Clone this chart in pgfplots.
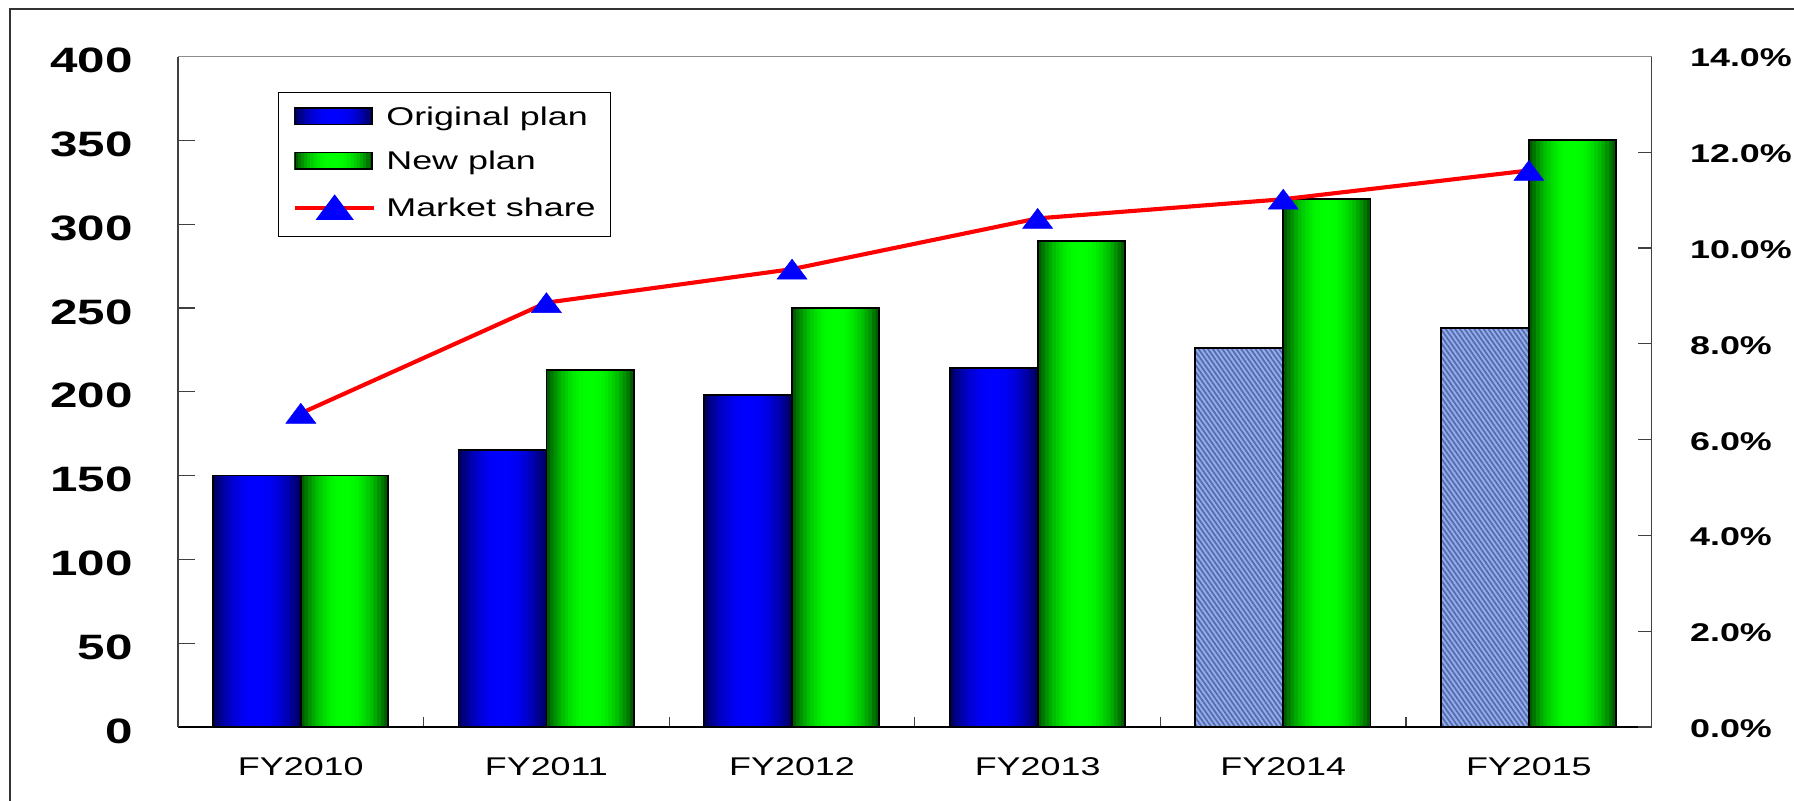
\documentclass[border=0pt]{standalone}
\usepackage{fontspec}
\setmainfont{Liberation Sans}
\usepackage{pgfplots}
\usepackage{pgfplotstable}
\pgfplotsset{compat=1.18}
\usetikzlibrary{patterns.meta}
\newfontfamily\regfont[FakeStretch=1.4]{Liberation Sans}
\newfontfamily\boldfont[FakeStretch=1.4]{Liberation Sans}
\definecolor{navyD}{RGB}{0,0,100}
\definecolor{blueM}{RGB}{0,0,255}
\definecolor{greenD}{RGB}{0,92,0}
\definecolor{greenM}{RGB}{0,255,0}
\definecolor{hatchbg}{RGB}{140,175,238}
\definecolor{hatchfg}{RGB}{92,104,170}
\definecolor{axgray}{RGB}{64,64,64}

\pgfplotstableread{
x v
0 150
1 165
2 198
3 214
}\origtab
\pgfplotstableread{
x v
4 226
5 238
}\hatchtab
\pgfplotstableread{
x v
0 150
1 213
2 250
3 290
4 315
5 350
}\newtab
\pgfplotstableread{
x v
0 6.55
1 8.86
2 9.56
3 10.62
4 11.02
5 11.62
}\sharetab

% one layer of a horizontally graded bar: width, percent of bright colour, shift, dark, bright, table
\newcommand\barlayer[6]{%
  \addplot[ybar, bar width=#1, bar shift=#3, draw=none, fill=#5!#2!#4, forget plot]
    table[x=x,y=v] {#6};}
\newcommand\gradbars[5]{% full width, shift, dark, bright, table
  \barlayer{#1*12/12}{0}{#2}{#3}{#4}{#5}
  \barlayer{#1*11/12}{17}{#2}{#3}{#4}{#5}
  \barlayer{#1*10/12}{33}{#2}{#3}{#4}{#5}
  \barlayer{#1*9/12}{47}{#2}{#3}{#4}{#5}
  \barlayer{#1*8/12}{60}{#2}{#3}{#4}{#5}
  \barlayer{#1*7/12}{70}{#2}{#3}{#4}{#5}
  \barlayer{#1*6/12}{79}{#2}{#3}{#4}{#5}
  \barlayer{#1*5/12}{87}{#2}{#3}{#4}{#5}
  \barlayer{#1*4/12}{93}{#2}{#3}{#4}{#5}
  \barlayer{#1*3/12}{97}{#2}{#3}{#4}{#5}
  \barlayer{#1*2/12}{99}{#2}{#3}{#4}{#5}
  \barlayer{#1*1/12}{100}{#2}{#3}{#4}{#5}}
\newcommand\gradswatch[2]{%
  \foreach \k/\p in {0/0,1/17,2/33,3/47,4/60,5/70,6/79,7/87,8/93,9/97,10/99,11/100}{
    \fill[#2!\p!#1] ({16.75pt-16.75pt*(12-\k)/12},-2.55pt) rectangle ({16.75pt+16.75pt*(12-\k)/12},4.65pt);}
  \draw[black, line width=0.7pt] (0pt,-2.55pt) rectangle (33.5pt,4.65pt);}

\begin{document}
\begin{tikzpicture}
\useasboundingbox (-77.8pt,-32.3pt) rectangle (706.2pt,317.7pt);
\draw[line width=0.85pt, black!80] (-73.4pt,-60pt) -- (-73.4pt,313.8pt) -- (740pt,313.8pt);
\begin{axis}[
  at={(0pt,0pt)}, anchor=south west,
  scale only axis, width=644pt, height=293pt,
  xmin=-0.5, xmax=5.5, ymin=0, ymax=400,
  enlargelimits=false,
  axis x line*=bottom, axis y line*=left,
  x axis line style={black, line width=0.7pt, -},
  y axis line style={axgray, line width=0.7pt, -},
  tick align=inside,
  xtick={0,...,5},
  xticklabels={FY2010,FY2011,FY2012,FY2013,FY2014,FY2015},
  major x tick style={draw=none},
  minor xtick={0.5,1.5,2.5,3.5,4.5},
  minor tick length=4.2pt,
  minor x tick style={axgray, line width=0.5pt},
  ytick={0,50,...,400},
  yticklabels={0,50,100,150,200,250,300,350,400},
  major tick length=7.3pt,
  y tick style={axgray, line width=0.5pt},
  xticklabel style={font=\regfont\fontsize{11.2}{13}\selectfont, anchor=north, inner sep=0pt, yshift=-13.1pt},
  yticklabel style={font=\boldfont\bfseries\fontsize{15.4}{18}\selectfont, anchor=east, inner sep=0pt, xshift=-19.7pt, yshift=-1.75pt},
  legend cell align=left,
  legend style={at={(axis description cs:0.0677,0.9468)}, anchor=north west,
    draw=black, line width=0.5pt, fill=white,
    inner xsep=6.5pt, inner ysep=6pt, row sep=8.9pt, column sep=4.4pt,
    font=\regfont\fontsize{11.2}{13}\selectfont,
    nodes={inner sep=0pt, text height=8.2pt, text depth=2.4pt}},
]
% Original plan, graded bars
\gradbars{0.358}{-0.179}{navyD}{blueM}{\origtab}
% Original plan, hatched bars (FY2014, FY2015)
\addplot[ybar, bar width=0.358, bar shift=-0.179, draw=none, fill=hatchbg, forget plot]
  table[x=x,y=v] {\hatchtab};
\addplot[ybar, bar width=0.358, bar shift=-0.179, draw=none,
  pattern={Lines[angle=-55,distance=1.7pt,line width=0.75pt]}, pattern color=hatchfg, forget plot]
  table[x=x,y=v] {\hatchtab};
\addplot[ybar, bar width=0.358, bar shift=-0.179, draw=black, line width=0.8pt, fill=none, forget plot]
  table[x=x,y=v] {\hatchtab};
% Original plan outline (legend carrier)
\addplot[ybar, bar width=0.358, bar shift=-0.179, draw=black, line width=0.8pt, fill=none,
  legend image code/.code={\gradswatch{navyD}{blueM}}]
  table[x=x,y=v] {\origtab};
\addlegendentry{Original plan}
% New plan
\gradbars{0.355}{0.1775}{greenD}{greenM}{\newtab}
\addplot[ybar, bar width=0.355, bar shift=0.1775, draw=black, line width=0.8pt, fill=none,
  legend image code/.code={\gradswatch{greenD}{greenM}}]
  table[x=x,y=v] {\newtab};
\addlegendentry{New plan}
\addlegendimage{red, line width=1.8pt,
  legend image code/.code={
    \draw[red, line width=1.8pt] (0pt,1.1pt) -- (34.5pt,1.1pt);
    \fill[blue] (17.2pt,-3.27pt) -- (23.75pt,-3.27pt) -- (17.2pt,5.47pt) -- (10.65pt,-3.27pt) -- cycle;}}
\addlegendentry{Market share}
\end{axis}
\begin{axis}[
  at={(0pt,0pt)}, anchor=south west,
  scale only axis, width=644pt, height=293pt,
  xmin=-0.5, xmax=5.5, ymin=0, ymax=14,
  enlargelimits=false,
  axis y line*=right, axis x line*=top,
  xtick=\empty,
  x axis line style={black!45, line width=0.7pt, -},
  y axis line style={axgray, line width=0.7pt, -},
  tick align=inside,
  ytick={0,2,...,14},
  yticklabels={0.0\%,2.0\%,4.0\%,6.0\%,8.0\%,10.0\%,12.0\%,14.0\%},
  major tick length=5.9pt,
  y tick style={axgray, line width=0.5pt},
  yticklabel style={font=\boldfont\bfseries\fontsize{11.2}{14}\selectfont, anchor=west, inner sep=0pt, xshift=16.6pt, yshift=-0.7pt},
  clip=false,
]
\addplot[red, line width=1.8pt, mark=triangle*, mark size=5.83pt,
  mark options={solid, draw=blue, fill=blue, line width=0.2pt, xscale=1.3, yshift=-1.45pt}]
  table[x=x,y=v] {\sharetab};
\end{axis}
\end{tikzpicture}
\end{document}
